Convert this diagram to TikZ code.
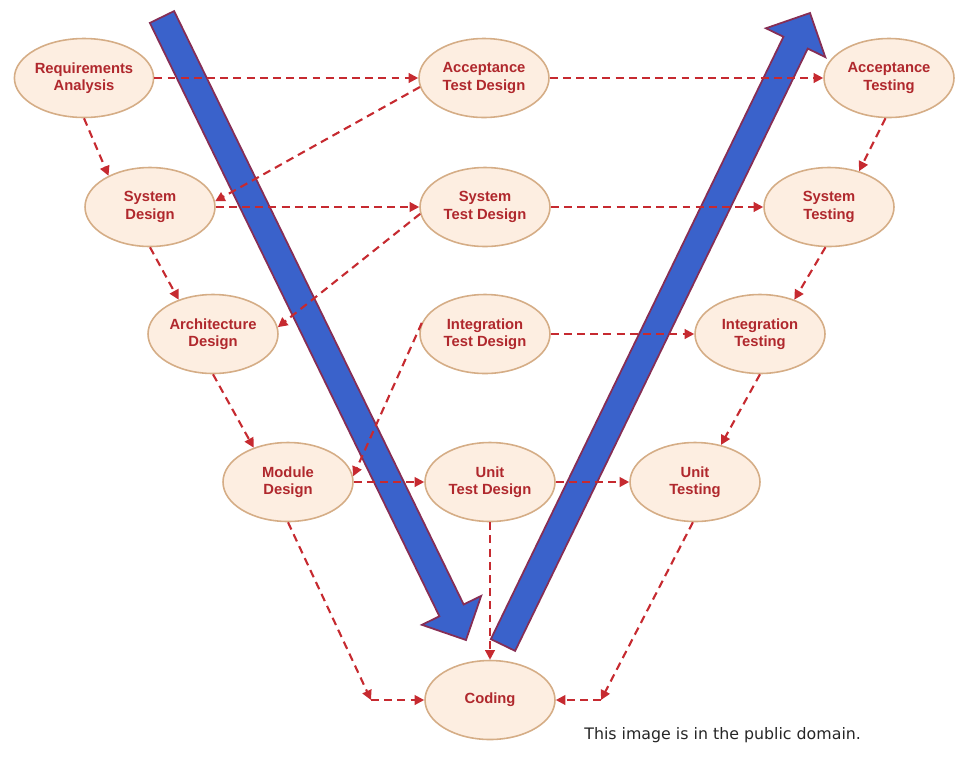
\documentclass[tikz,border=0pt]{standalone}
\usepackage{fontspec}
\setmainfont{Liberation Sans}
\newfontfamily\footfont{DejaVu Sans}
\usetikzlibrary{arrows.meta,calc,shapes.geometric}
\definecolor{nodefill}{HTML}{FDEEE1}
\definecolor{nodeline}{HTML}{D5AD86}
\definecolor{txtred}{HTML}{B0282D}
\definecolor{dashred}{HTML}{C62A30}
\definecolor{vblue}{HTML}{3A62CB}
\definecolor{vborder}{HTML}{862E55}
\begin{document}
\begin{tikzpicture}[x=0.02cm,y=-0.02cm,
  phase/.style={ellipse, draw=nodeline, fill=nodefill, line width=0.9pt,
    minimum width=2.6cm, minimum height=1.58cm, inner sep=0pt, align=center,
    font=\fontsize{8.4}{9.9}\selectfont\bfseries, text=txtred},
  flow/.style={draw=dashred, line width=1.2pt, dash pattern=on 4.5pt off 3pt,
    -{Triangle[length=5.5pt,width=5.5pt]}},
  bigarrow/.style={fill=vblue, draw=vborder, line width=1pt, line join=miter}]
\useasboundingbox (0,0) rectangle (969,758);

% big blue arrows
\coordinate (dS) at (162,17); \coordinate (dT) at (466,640);
\coordinate (dB) at ($(dT)!0.66cm!(dS)$);
\filldraw[bigarrow] ($(dS)!0.27cm!90:(dT)$) -- ($(dB)!0.27cm!90:(dT)$) -- ($(dB)!0.66cm!90:(dT)$)
  -- (dT) -- ($(dB)!0.66cm!-90:(dT)$) -- ($(dB)!0.27cm!-90:(dT)$) -- ($(dS)!0.27cm!-90:(dT)$) -- cycle;
\coordinate (uS) at (503,645); \coordinate (uT) at (810,13);
\coordinate (uB) at ($(uT)!0.66cm!(uS)$);
\filldraw[bigarrow] ($(uS)!0.27cm!90:(uT)$) -- ($(uB)!0.27cm!90:(uT)$) -- ($(uB)!0.66cm!90:(uT)$)
  -- (uT) -- ($(uB)!0.66cm!-90:(uT)$) -- ($(uB)!0.27cm!-90:(uT)$) -- ($(uS)!0.27cm!-90:(uT)$) -- cycle;

% nodes
\node[phase] (ra)  at (84,78)   {Requirements\\Analysis};
\node[phase] (atd) at (484,78)  {Acceptance\\Test Design};
\node[phase] (at)  at (889,78)  {Acceptance\\Testing};
\node[phase] (sd)  at (150,207) {System\\Design};
\node[phase] (std) at (485,207) {System\\Test Design};
\node[phase] (st)  at (829,207) {System\\Testing};
\node[phase] (ad)  at (213,334) {Architecture\\Design};
\node[phase] (itd) at (485,334) {Integration\\Test Design};
\node[phase] (it)  at (760,334) {Integration\\Testing};
\node[phase] (md)  at (288,482) {Module\\Design};
\node[phase] (utd) at (490,482) {Unit\\Test Design};
\node[phase] (ut)  at (695,482) {Unit\\Testing};
\node[phase] (cod) at (490,700) {Coding};

\coordinate (c1) at (371,700);
\coordinate (c2) at (601,700);

% connectors
\draw[flow] (ra.east) -- (atd.west);
\draw[flow] (atd.east) -- (at.west);
\draw[flow] (ra.south) -- (sd.143);
\draw[flow] (atd.188) -- (sd.5);
\draw[flow] (sd.east) -- (std.west);
\draw[flow] (std.east) -- (st.west);
\draw[flow] (at.-95) -- (st.50);
\draw[flow] (sd.south) -- (ad.135);
\draw[flow] (std.186) -- (ad.6);
\draw[flow] (st.-95) -- (it.45);
\draw[flow] (itd.east) -- (it.west);
\draw[flow] (ad.south) -- (md.135);
\draw[flow] (itd.170) -- (md.5);
\draw[flow] (md.east) -- (utd.west);
\draw[flow] (utd.east) -- (ut.west);
\draw[flow] (it.south) -- (ut.55);
\draw[flow] (utd.south) -- (cod.north);
\draw[flow] (md.south) -- (c1);
\draw[flow] (c1) -- (cod.west);
\draw[flow] (ut.-93) -- (c2);
\draw[flow] (c2) -- (cod.east);

\node[anchor=west, font=\footfont\fontsize{9}{11}\selectfont, text=black!85, inner sep=0pt] (note) at (584,735) {This image is in the public domain.};
\end{tikzpicture}
\end{document}
